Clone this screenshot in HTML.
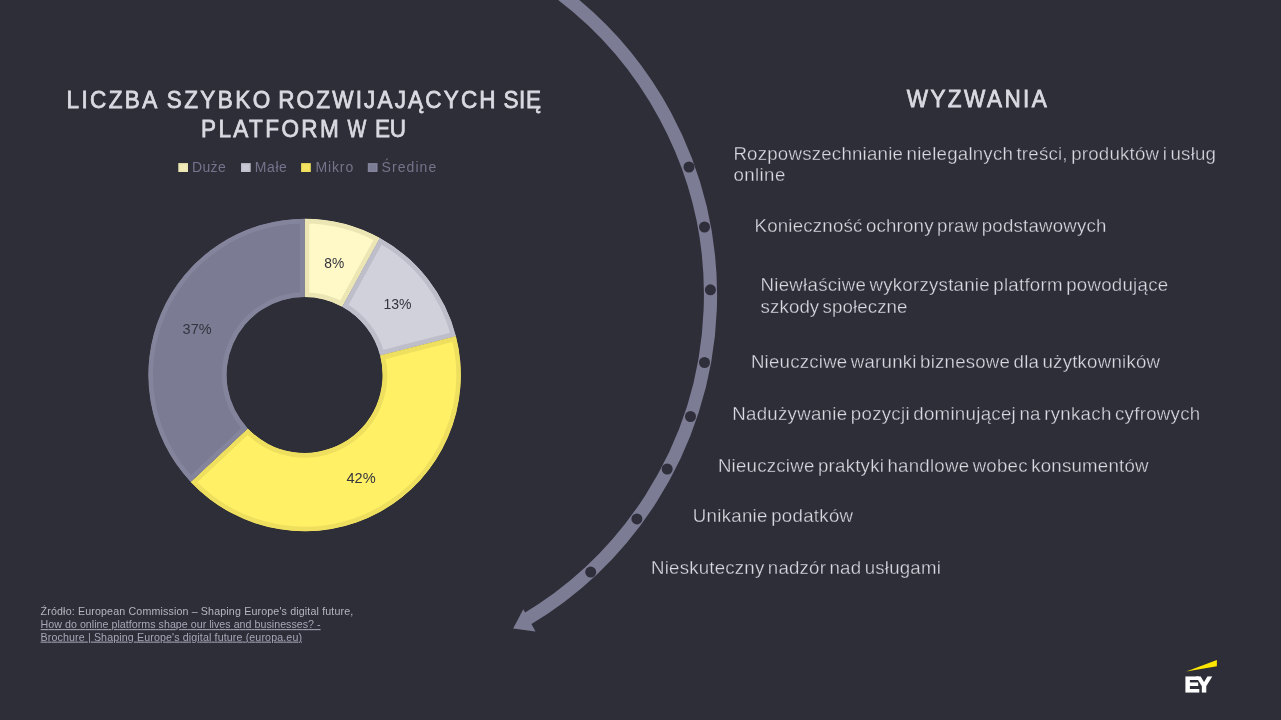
<!DOCTYPE html>
<html lang="pl"><head><meta charset="utf-8"><title>Wyzwania</title>
<style>
html,body{margin:0;padding:0;background:#2e2e38;}
body{width:1281px;height:720px;overflow:hidden;position:relative;font-family:"Liberation Sans",sans-serif;}
svg{position:absolute;left:0;top:0;display:block;will-change:transform;font-family:"Liberation Sans",sans-serif;}
.lnk{text-decoration:underline;text-underline-offset:1.5px;text-decoration-thickness:0.8px;text-decoration-skip-ink:none;}
.bd{word-spacing:-2px;stroke:#2e2e38;stroke-width:0.3px;paint-order:fill stroke;}
.ttl{stroke:#dadae2;stroke-width:0.8px;}
</style></head>
<body>
<svg width="1281" height="720" viewBox="0 0 1281 720">
<rect width="1281" height="720" fill="#2e2e38"/>
<defs><clipPath id="c0"><path d="M304.60 218.75A156.25 156.25 0 0 1 379.87 238.08L342.18 306.65A78.0 78.0 0 0 0 304.60 297.00Z"/></clipPath><clipPath id="c1"><path d="M379.87 238.08A156.25 156.25 0 0 1 455.94 336.14L380.15 355.60A78.0 78.0 0 0 0 342.18 306.65Z"/></clipPath><clipPath id="c2"><path d="M455.94 336.14A156.25 156.25 0 0 1 190.70 481.96L247.74 428.39A78.0 78.0 0 0 0 380.15 355.60Z"/></clipPath><clipPath id="c3"><path d="M190.70 481.96A156.25 156.25 0 0 1 304.60 218.75L304.60 297.00A78.0 78.0 0 0 0 247.74 428.39Z"/></clipPath></defs>
<g id="donut"><path d="M304.60 218.75A156.25 156.25 0 0 1 379.87 238.08L342.18 306.65A78.0 78.0 0 0 0 304.60 297.00Z" fill="#fff9c8" stroke="#ece6b4" stroke-width="9.4" stroke-linejoin="miter" clip-path="url(#c0)"/><path d="M379.87 238.08A156.25 156.25 0 0 1 455.94 336.14L380.15 355.60A78.0 78.0 0 0 0 342.18 306.65Z" fill="#d1d1dc" stroke="#bebecb" stroke-width="9.4" stroke-linejoin="miter" clip-path="url(#c1)"/><path d="M455.94 336.14A156.25 156.25 0 0 1 190.70 481.96L247.74 428.39A78.0 78.0 0 0 0 380.15 355.60Z" fill="#fff066" stroke="#eedf5e" stroke-width="9.4" stroke-linejoin="miter" clip-path="url(#c2)"/><path d="M190.70 481.96A156.25 156.25 0 0 1 304.60 218.75L304.60 297.00A78.0 78.0 0 0 0 247.74 428.39Z" fill="#7b7b94" stroke="#84849c" stroke-width="9.4" stroke-linejoin="miter" clip-path="url(#c3)"/></g>
<g id="labels"><text x="324.3" y="267.7" font-size="14.8" fill="#34343e" textLength="19.9" lengthAdjust="spacingAndGlyphs" >8%</text><text x="383.4" y="308.8" font-size="14.8" fill="#34343e" textLength="28.1" lengthAdjust="spacingAndGlyphs" >13%</text><text x="182.6" y="334.4" font-size="14.8" fill="#34343e" textLength="29.0" lengthAdjust="spacingAndGlyphs" >37%</text><text x="346.5" y="482.5" font-size="14.8" fill="#34343e" textLength="29.2" lengthAdjust="spacingAndGlyphs" >42%</text></g>
<g id="arc"><path d="M549.31 -14.64A378.0 378.0 0 0 1 524.92 620.36" fill="none" stroke="#7c7c95" stroke-width="13.2"/><polygon points="513.1,628.6 523.3,609.2 535.5,631.5" fill="#7c7c95"/><circle cx="689" cy="167" r="5.5" fill="#2f2f3b"/><circle cx="704.5" cy="227" r="5.5" fill="#2f2f3b"/><circle cx="710.4" cy="289.8" r="5.5" fill="#2f2f3b"/><circle cx="704.5" cy="362.5" r="5.5" fill="#2f2f3b"/><circle cx="690.5" cy="416.5" r="5.5" fill="#2f2f3b"/><circle cx="667.2" cy="469" r="5.5" fill="#2f2f3b"/><circle cx="636.9" cy="518.9" r="5.5" fill="#2f2f3b"/><circle cx="590.7" cy="572.1" r="5.5" fill="#2f2f3b"/></g>
<g id="title"><g transform="translate(66.6 0) scale(0.92 1)"><text x="0" y="107.7" font-size="24.5" fill="#dadae2" textLength="98.5" lengthAdjust="spacing" class="ttl">LICZBA</text></g><g transform="translate(166.7 0) scale(0.92 1)"><text x="0" y="107.7" font-size="24.5" fill="#dadae2" textLength="112.5" lengthAdjust="spacing" class="ttl">SZYBKO</text></g><g transform="translate(278.2 0) scale(0.92 1)"><text x="0" y="107.7" font-size="24.5" fill="#dadae2" textLength="236.3" lengthAdjust="spacing" class="ttl">ROZWIJAJĄCYCH</text></g><g transform="translate(503.4 0) scale(0.92 1)"><text x="0" y="107.7" font-size="24.5" fill="#dadae2" textLength="40.8" lengthAdjust="spacing" class="ttl">SIĘ</text></g><g transform="translate(201.0 0) scale(0.92 1)"><text x="0" y="137.3" font-size="24.5" fill="#dadae2" textLength="149.8" lengthAdjust="spacing" class="ttl">PLATFORM</text></g><g transform="translate(347.4 0) scale(0.92 1)"><text x="0" y="137.3" font-size="24.5" fill="#dadae2" textLength="20.4" lengthAdjust="spacingAndGlyphs" class="ttl">W</text></g><g transform="translate(374.9 0) scale(0.92 1)"><text x="0" y="137.3" font-size="24.5" fill="#dadae2" textLength="33.9" lengthAdjust="spacing" class="ttl">EU</text></g><g transform="translate(906.7 0) scale(0.92 1)"><text x="0" y="107.0" font-size="24.5" fill="#dadae2" textLength="152.3" lengthAdjust="spacing" class="ttl">WYZWANIA</text></g></g>
<g id="legend"><rect x="179.05" y="163.85" width="8.2" height="7.4" fill="#f1ebba" stroke="#ece6b4" stroke-width="1.5"/><text x="191.9" y="171.9" font-size="14" fill="#74748c" textLength="33.8" lengthAdjust="spacing" >Duże</text><rect x="241.75" y="163.85" width="8.2" height="7.4" fill="#c8c8d4" stroke="#bebecb" stroke-width="1.5"/><text x="254.8" y="171.9" font-size="14" fill="#74748c" textLength="32.1" lengthAdjust="spacing" >Małe</text><rect x="301.85" y="163.85" width="8.2" height="7.4" fill="#f4e460" stroke="#eedf5e" stroke-width="1.5"/><text x="315.4" y="171.9" font-size="14" fill="#74748c" textLength="37.8" lengthAdjust="spacing" >Mikro</text><rect x="368.55" y="163.85" width="8.2" height="7.4" fill="#7b7b94" stroke="#84849c" stroke-width="1.5"/><text x="381.6" y="171.9" font-size="14" fill="#74748c" textLength="54.6" lengthAdjust="spacing" >Średine</text></g>
<g id="list"><text x="733.4" y="159.5" font-size="18.67" fill="#dadae3" textLength="482.6" lengthAdjust="spacing" class="bd">Rozpowszechnianie nielegalnych treści, produktów i usług</text><text x="733.4" y="181.0" font-size="18.67" fill="#dadae3" textLength="51.9" lengthAdjust="spacing" class="bd">online</text><text x="754.5" y="231.6" font-size="18.67" fill="#dadae3" textLength="351.9" lengthAdjust="spacing" class="bd">Konieczność ochrony praw podstawowych</text><text x="760.6" y="291.0" font-size="18.67" fill="#dadae3" textLength="407.5" lengthAdjust="spacing" class="bd">Niewłaściwe wykorzystanie platform powodujące</text><text x="760.6" y="312.6" font-size="18.67" fill="#dadae3" textLength="146.9" lengthAdjust="spacing" class="bd">szkody społeczne</text><text x="750.9" y="367.7" font-size="18.67" fill="#dadae3" textLength="409.1" lengthAdjust="spacing" class="bd">Nieuczciwe warunki biznesowe dla użytkowników</text><text x="732.2" y="419.7" font-size="18.67" fill="#dadae3" textLength="468.0" lengthAdjust="spacing" class="bd">Nadużywanie pozycji dominującej na rynkach cyfrowych</text><text x="717.9" y="472.2" font-size="18.67" fill="#dadae3" textLength="430.7" lengthAdjust="spacing" class="bd">Nieuczciwe praktyki handlowe wobec konsumentów</text><text x="692.8" y="522.1" font-size="18.67" fill="#dadae3" textLength="160.3" lengthAdjust="spacing" class="bd">Unikanie podatków</text><text x="651.0" y="574.1" font-size="18.67" fill="#dadae3" textLength="289.8" lengthAdjust="spacing" class="bd">Nieskuteczny nadzór nad usługami</text></g>
<g id="foot"><text x="40.6" y="614.8" font-size="10.67" fill="#b6b6c2" textLength="312.7" lengthAdjust="spacing" >Źródło: European Commission – Shaping Europe's digital future,</text><text x="40.6" y="628.1" font-size="10.67" fill="#a6a6b8" textLength="280.0" lengthAdjust="spacing" class="lnk">How do online platforms shape our lives and businesses? -</text><text x="40.6" y="640.6" font-size="10.67" fill="#a6a6b8" textLength="261.4" lengthAdjust="spacing" class="lnk">Brochure | Shaping Europe's digital future (europa.eu)</text></g>
<g id="logo"><polygon points="1186.2,671.6 1216.9,659.9 1216.9,666.2" fill="#ffe600"/><text x="1184.6" y="692.2" font-size="22.6" fill="#ffffff" textLength="27.0" lengthAdjust="spacing" font-weight="700" stroke="#ffffff" stroke-width="1.1" stroke-linejoin="miter">EY</text></g>
</svg>
</body></html>
